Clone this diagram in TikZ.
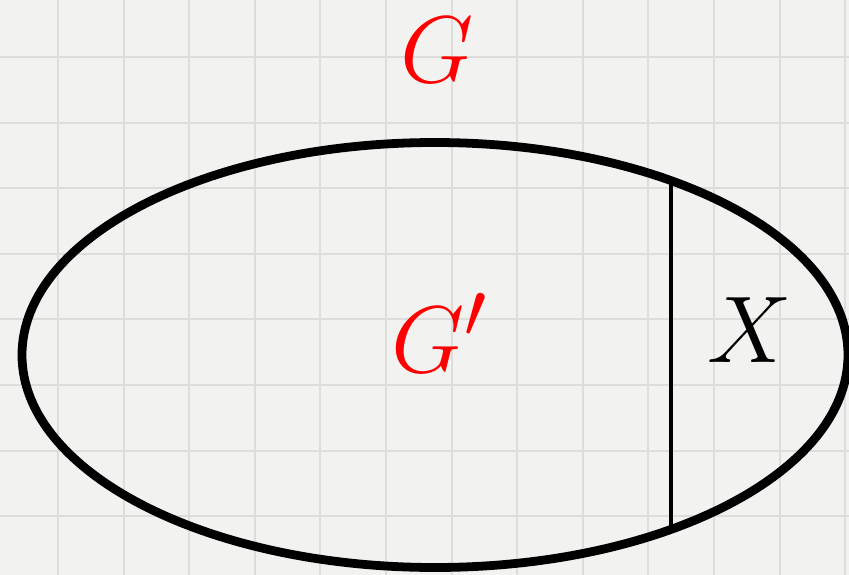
\documentclass[tikz,border=0pt]{standalone}
\usepackage{amsmath}
\usepackage{amssymb}
\usetikzlibrary{calc}

\definecolor{paper}{RGB}{242,242,240}
\definecolor{gridgray}{RGB}{221,221,219}

\begin{document}
\begin{tikzpicture}[
       x = 0.02cm, y = -0.02cm,
     big/.style = {font=\Huge, scale=2.17, inner sep=0pt},
     red/.style = {text=red},
  squares/.style = {draw=gridgray, line width=1.1pt}
                        ]
    % Size of the paper and of the squares
    \def\paperw{849}
    \def\paperh{575}
    \def\sq{65.6}

    % The paper
    \fill[paper] (0,0) rectangle (\paperw,\paperh);
    \useasboundingbox (0,0) rectangle (\paperw,\paperh);

    % Squares
    \foreach \i in {0,...,12}
        \draw[squares] (58 + \i * \sq, 0) -- (58 + \i * \sq, \paperh);
    \foreach \i in {0,...,8}
        \draw[squares] (0, 57 + \i * \sq) -- (\paperw, 57 + \i * \sq);

    % The big oval
    \draw[line width=5pt] (435,355) ellipse [x radius=413, y radius=212.5];

    % Cut off the part X
    \coordinate (top) at (671,181);
    \coordinate (bot) at (671,529);
    \draw[line width=2.8pt] (top) -- (bot);

    % Labels
    \node (G)  at (437,50)  [big, red] {$G$};
    \node (G') at (440,333) [big, red] {$G'$};
    \node (X)  at (750,330) [big] {$X$};
\end{tikzpicture}
\end{document}
